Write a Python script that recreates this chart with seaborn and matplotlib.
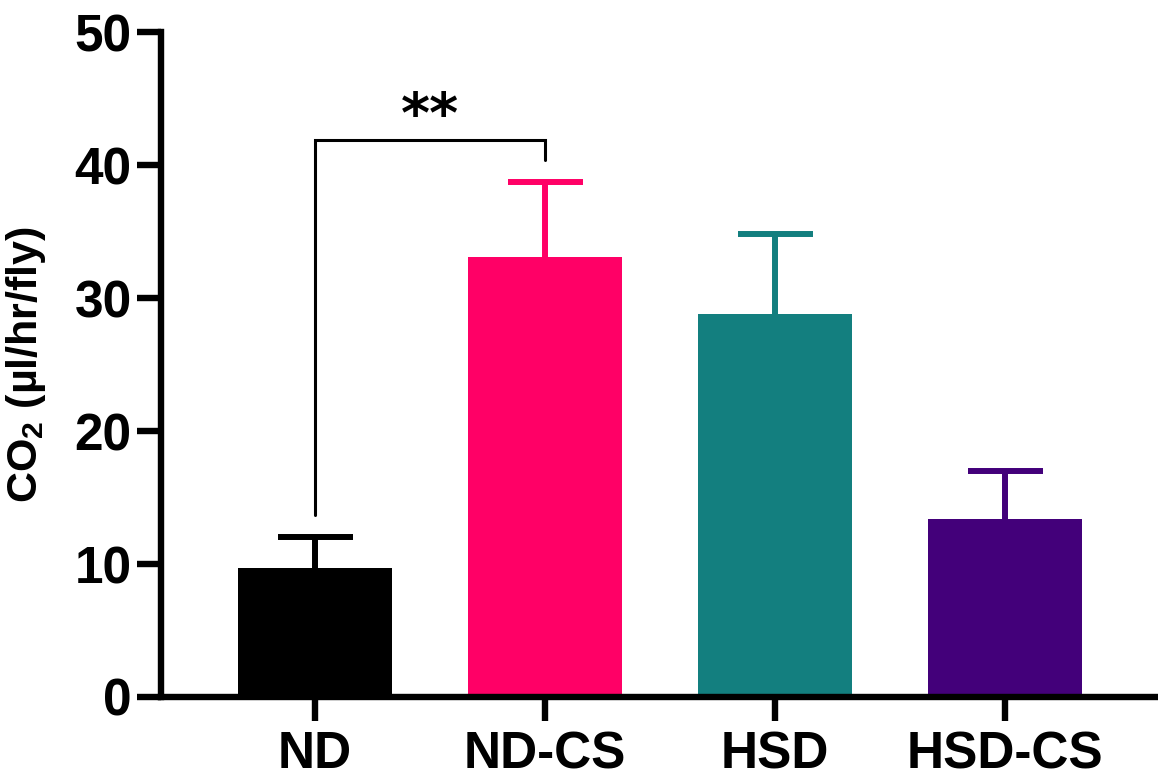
import matplotlib
matplotlib.use('Agg')
import matplotlib.pyplot as plt
import seaborn as sns
import pandas as pd

# Data
groups = ['ND', 'ND-CS', 'HSD', 'HSD-CS']
co2_mean = [9.7, 33.1, 28.8, 13.4]
co2_err = [2.3, 5.6, 6.0, 3.6]
bar_colors = ['#000000', '#FF0066', '#137F7F', '#43007A']

# significance bracket ND vs ND-CS
sig_pair = ('ND', 'ND-CS')
sig_label = '**'
bracket_top = 41.9
bracket_left_end = 13.7
bracket_right_end = 40.4

sns.set_style('ticks')
plt.rcParams['font.family'] = ['Liberation Sans', 'DejaVu Sans']
plt.rcParams['font.weight'] = 'bold'
plt.rcParams['text.color'] = 'black'
plt.rcParams['axes.labelcolor'] = 'black'
plt.rcParams['xtick.color'] = 'black'
plt.rcParams['ytick.color'] = 'black'
plt.rcParams['axes.edgecolor'] = 'black'

df = pd.DataFrame({'group': groups, 'co2': co2_mean})

fig = plt.figure(figsize=(11.58, 7.78), dpi=100)
ax = fig.add_axes([161 / 1158, 81 / 778, 997 / 1158, 665 / 778])

sns.barplot(data=df, x='group', y='co2', hue='group', palette=bar_colors,
            order=groups, hue_order=groups, width=0.67, legend=False,
            errorbar=None, saturation=1, linewidth=0, ax=ax)

# upper-only error bars in the bar colour (hide the lower cap)
for i, (m, e, c) in enumerate(zip(co2_mean, co2_err, bar_colors)):
    eb = ax.errorbar(i, m, yerr=[[0], [e]], fmt='none', ecolor=c,
                     elinewidth=4.3, capsize=27, capthick=4.3, zorder=3)
    for cap in eb[1]:
        if abs(cap.get_ydata()[0] - m) < 1e-9:
            cap.set_visible(False)

# significance bracket
x1, x2 = groups.index(sig_pair[0]), groups.index(sig_pair[1])
ax.plot([x1, x1, x2, x2],
        [bracket_left_end, bracket_top, bracket_top, bracket_right_end],
        color='black', linewidth=2.2, solid_joinstyle='miter', zorder=4)
ax.text((x1 + x2) / 2, bracket_top - 0.3, sig_label, ha='center', va='bottom',
        fontsize=40, fontweight='bold', family='DejaVu Sans')

ax.set_ylim(0, 50)
ax.set_xlim(-0.67, 3.665)
ax.set_yticks([0, 10, 20, 30, 40, 50])

for side in ['top', 'right']:
    ax.spines[side].set_visible(False)
for side in ['left', 'bottom']:
    ax.spines[side].set_linewidth(4.6)
    ax.spines[side].set_capstyle('projecting')

ax.tick_params(axis='both', width=4.6, length=17, labelsize=37, direction='out')
ax.tick_params(axis='y', pad=4)
ax.tick_params(axis='x', pad=7)
for lbl in ax.get_xticklabels() + ax.get_yticklabels():
    lbl.set_fontweight('bold')

ax.set_xlabel('')
ax.set_ylabel(r'CO$_\mathregular{2}$ (µl/hr/fly)', fontsize=31, fontweight='bold')
ax.yaxis.set_label_coords(-0.113, 0.5)

fig.savefig('out.png', dpi=100)
